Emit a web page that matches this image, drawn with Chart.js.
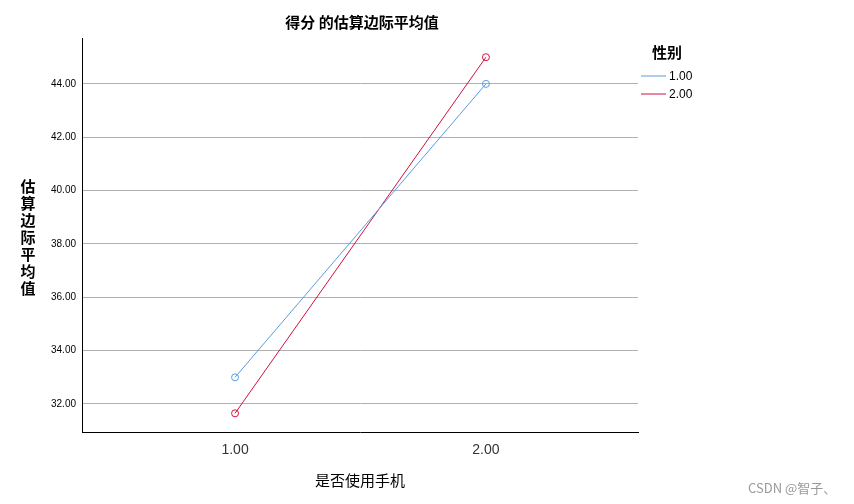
<!DOCTYPE html>
<html>
<head>
<meta charset="utf-8">
<script src="https://cdn.jsdelivr.net/npm/chart.js@4/dist/chart.umd.min.js"></script>
<style>
  body { margin: 0; background: #fff; }
  #wrap { width: 854px; height: 504px; }
</style>
</head>
<body>
<div id="wrap"><canvas id="chart"></canvas></div>
<script>
// data
const categories = [1, 2];
const series1 = [33.0, 44.0];
const series2 = [31.65, 45.0];
const seriesNames = ["1.00", "2.00"];
const yTicks = [32, 34, 36, 38, 40, 42, 44];

const BLUE = "#5b9be0";
const RED = "#d01040";
const FONT = "'Noto Sans CJK SC', 'Liberation Sans', sans-serif";

const textPlugin = {
  id: "texts",
  afterDraw(chart) {
    const c = chart.ctx;
    c.save();
    c.fillStyle = "#000";
    c.textAlign = "center";
    c.textBaseline = "middle";
    c.font = "bold 15px " + FONT;
    c.fillText("得分 的估算边际平均值", 362, 22);
    c.font = "15px " + FONT;
    c.fillText("是否使用手机", 360, 480);
    // vertical y title
    c.font = "bold 15px " + FONT;
    "估算边际平均值".split("").forEach((ch, i) => c.fillText(ch, 28, 186 + i * 17));
    // legend
    c.textAlign = "left";
    c.font = "bold 15px " + FONT;
    c.fillText("性别", 652, 52);
    c.font = "12px 'Liberation Sans', sans-serif";
    [BLUE, RED].forEach((col, i) => {
      const y = 76 + i * 18;
      c.strokeStyle = col;
      c.lineWidth = 1;
      c.beginPath(); c.moveTo(641, y); c.lineTo(666, y); c.stroke();
      c.fillText(seriesNames[i], 669, y + 1);
    });
    // watermark
    c.fillStyle = "#999";
    c.font = "13px " + FONT;
    c.fillText("CSDN @智子、", 748, 488);
    c.restore();
  }
};

new Chart(document.getElementById("chart"), {
  type: "line",
  data: {
    datasets: [
      { label: seriesNames[0], data: categories.map((x, i) => ({ x, y: series1[i] })),
        borderColor: BLUE, borderWidth: 1, pointRadius: 3.5, pointBackgroundColor: "transparent",
        pointBorderColor: BLUE, pointBorderWidth: 1 },
      { label: seriesNames[1], data: categories.map((x, i) => ({ x, y: series2[i] })),
        borderColor: RED, borderWidth: 1, pointRadius: 3.5, pointBackgroundColor: "transparent",
        pointBorderColor: RED, pointBorderWidth: 1 }
    ]
  },
  options: {
    responsive: true,
    maintainAspectRatio: false,
    animation: false,
    layout: { padding: { top: 38, right: 216, left: 0, bottom: 0 } },
    plugins: { legend: { display: false }, tooltip: { enabled: false } },
    scales: {
      x: {
        type: "linear", min: 0.39, max: 2.606,
        afterBuildTicks: s => { s.ticks = categories.map(v => ({ value: v })); },
        afterFit: s => { s.height = 72; },
        grid: { display: false, drawTicks: false },
        border: { color: "#000", width: 1 },
        ticks: { color: "#333", padding: 10, font: { size: 14, family: "'Liberation Sans', sans-serif" },
                 callback: v => v.toFixed(2) }
      },
      y: {
        min: 30.95, max: 45.72,
        afterBuildTicks: s => { s.ticks = yTicks.map(v => ({ value: v })); },
        afterFit: s => { s.width = 82; },
        grid: { color: "#b0b0b0", drawTicks: false },
        border: { color: "#000", width: 1 },
        ticks: { color: "#000", padding: 6, font: { size: 10, family: "'Liberation Sans', sans-serif" },
                 callback: v => v.toFixed(2) }
      }
    }
  },
  plugins: [textPlugin]
});
</script>
</body>
</html>
